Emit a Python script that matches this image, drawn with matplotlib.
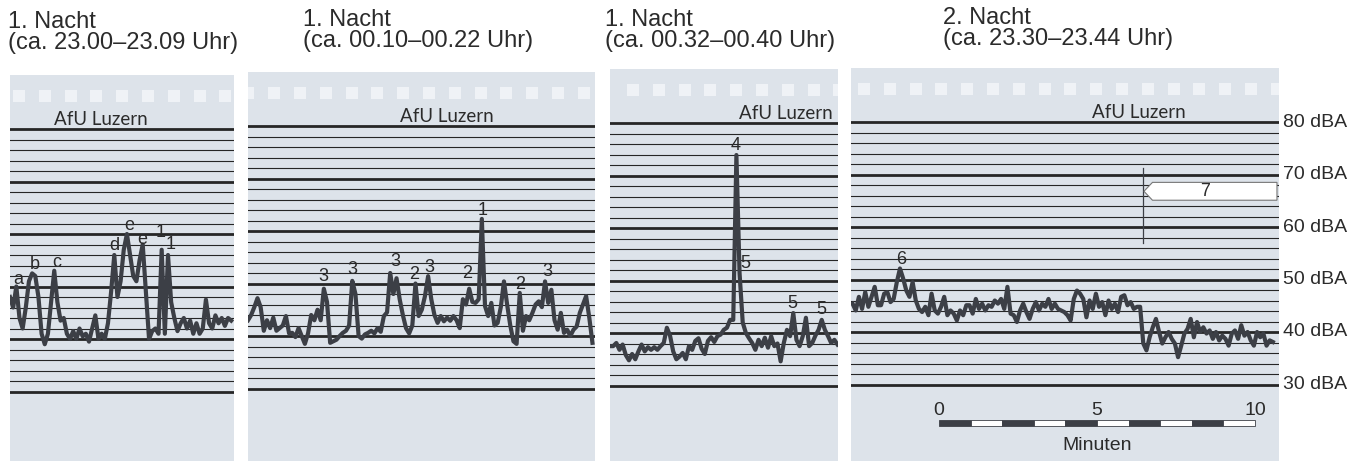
import numpy as np
import matplotlib.pyplot as plt
from matplotlib.patches import Rectangle, Polygon

plt.rcParams['font.family'] = ['Liberation Sans', 'DejaVu Sans']

W, H = 1357, 461
PX_MIN = 31.6   # pixels per minute
PX_DB = 5.25    # pixels per dBA
DT = 0.1        # minutes between samples

BG = '#dde3ea'
HOLE = '#eff2f6'
GRID = '#262626'
TRACE = '#3c3f46'
TXT = '#2b2b2b'

# --- data -------------------------------------------------------------
titles = ['1. Nacht', '1. Nacht', '1. Nacht', '2. Nacht']
subtitles = ['(ca. 23.00–23.09 Uhr)', '(ca. 00.10–00.22 Uhr)',
             '(ca. 00.32–00.40 Uhr)', '(ca. 23.30–23.44 Uhr)']

# level in dBA, one sample every DT minutes
night1_a = [48, 46, 50, 44, 42, 46, 51, 52.5, 52, 48,
            41, 39, 41, 47, 53, 47, 43.5, 44, 41, 40,
            41.5, 40, 42, 40.5, 41, 39.5, 42, 44.5, 40, 41,
            40, 43, 49, 56, 48, 51, 57, 60, 56, 52,
            51, 55, 58, 49, 40, 41.5, 42, 41, 57, 41,
            56, 47, 44, 41.5, 43, 44, 42, 43.5, 41, 43,
            41, 42, 47.5, 43, 42, 44.5, 43, 44, 42.5, 44,
            43.5]
night1_b = [43, 44, 45.5, 47.2, 45.5, 41, 43, 41.5, 43.5, 41,
            41.5, 42, 43.8, 40.5, 40.6, 39.8, 41.5, 40, 38.5, 40.5,
            44, 43, 45, 43, 49, 46.5, 38.7, 39, 39.3, 40,
            40.6, 41, 42, 50.5, 48, 40, 39.5, 40.3, 40.6, 41,
            40.5, 41.5, 40.8, 43.8, 44.5, 52, 48, 51, 47, 44,
            41.5, 40.5, 42, 50, 43.8, 45, 47.6, 51.4, 47, 44,
            42.5, 43.8, 42.8, 43.5, 42.9, 43.8, 43, 41.5, 47, 46,
            49, 46.5, 46.3, 47, 62.3, 45.7, 43.8, 46.3, 42, 42.5,
            45.5, 50.4, 46, 42, 39, 38.5, 48.2, 41, 43.8, 43,
            44.4, 46, 46.6, 45.5, 50.4, 46.3, 48.8, 43, 41.2, 44.4,
            40.6, 41.2, 40, 41.2, 41.8, 44.4, 46, 47.6, 43.5, 38.7]
night1_c = [37.5, 37.5, 38.1, 36.8, 37.8, 35.8, 34.8, 36, 35, 36.5,
            37.8, 36.5, 37.3, 36.8, 37.3, 36.8, 37.5, 38.1, 41, 39.5,
            36.5, 35, 35.5, 36.2, 35, 37.5, 36.8, 38.5, 39, 37,
            36, 38.5, 39.2, 38.3, 39.4, 39.7, 40.6, 41, 42.5, 42.5,
            73.9, 51.4, 42, 40, 39, 38.1, 36.8, 38.7, 37.5, 39.1,
            37.2, 39.4, 37.5, 38, 34.6, 38.1, 40.6, 39.4, 43.8, 38.7,
            37.5, 39.4, 42.9, 37.5, 38.1, 39.5, 40.6, 42.5, 40.6, 39.4,
            38.1, 38.7, 37.8]
night2 = [45.4, 44.1, 46.7, 44.4, 47.6, 44.8, 46.7, 48.6, 45.1, 45.1,
          47.3, 47.6, 45.7, 46.3, 49.5, 52.1, 50.2, 47.9, 46.7, 49.5,
          46.0, 44.4, 43.8, 44.8, 43.2, 47.3, 44.1, 43.5, 44.8, 46.7,
          43.2, 44.1, 43.5, 42.2, 44.1, 43.2, 45.1, 45.1, 43.5, 46.3,
          44.4, 45.4, 44.1, 45.1, 44.8, 46.0, 45.4, 46.3, 44.4, 48.6,
          43.5, 43.2, 41.9, 44.1, 45.4, 43.8, 42.5, 44.4, 45.7, 44.1,
          45.4, 44.8, 46.3, 44.4, 45.4, 44.4, 44.1, 43.8, 43.2, 42.2,
          46.3, 47.9, 47.3, 46.3, 42.8, 46.0, 44.4, 47.3, 44.8, 45.7,
          43.2, 46.0, 44.4, 45.4, 43.8, 46.7, 47.0, 45.1, 45.7, 44.4,
          44.8, 44.8, 37.8, 36.5, 39.0, 40.9, 42.5, 40.0, 37.8, 39.0,
          40.0, 38.7, 37.8, 35.2, 37.4, 39.7, 40.6, 42.5, 39.0, 41.9,
          40.0, 40.9, 39.7, 40.3, 38.7, 40.0, 38.4, 39.3, 38.7, 37.4,
          39.7, 40.3, 38.7, 41.3, 39.3, 40.0, 38.4, 37.4, 40.0, 39.0,
          39.7, 37.4, 38.4, 38.1]
series = [night1_a, night1_b, night1_c, night2]
start_min = [0, 0, 0, 0.05]

# event labels: text, minute, dBA
labels_a = [('a', 0.26, 51.3), ('b', 0.77, 54.1), ('c', 1.48, 54.6),
            ('d', 3.29, 57.8), ('e', 3.77, 61.7), ('e', 4.2, 58.9),
            ('1', 4.76, 60.2), ('1', 5.07, 58.0)]
labels_b = [('3', 2.38, 51.4), ('3', 3.31, 52.6), ('3', 4.65, 54.1),
            ('2', 5.26, 51.8), ('3', 5.73, 53.1), ('2', 6.92, 51.9),
            ('1', 7.41, 64.0), ('2', 8.61, 49.8), ('3', 9.47, 52.3)]
labels_c = [('4', 3.99, 75.8), ('5', 4.29, 53.3), ('5', 5.78, 45.6),
            ('5', 6.70, 44.5)]
labels_d = [('6', 1.6, 53.8)]
event_labels = [labels_a, labels_b, labels_c, labels_d]

db_ticks = [80, 70, 60, 50, 40, 30]
scale_ticks = [0, 5, 10]

# --- layout (pixels) --------------------------------------------------
panel_x = [(10, 234), (248, 595), (610, 838), (851, 1279)]
panel_y80 = [129, 126, 123, 122]
hole_off = [3, -5.7, 17, 7]
title_x = [8, 303, 605, 943]
title_base = [28, 26, 26, 24]
afu_pos = [(101, 'center'), (447, 'center'), (833, 'right'), (1139, 'center')]

fig = plt.figure(figsize=(W / 100, H / 100), dpi=100)
fig.patch.set_facecolor('white')

axes = []
for k in range(4):
    x0, x1 = panel_x[k]
    y80 = panel_y80[k]
    top = y80 - 54
    bot = y80 + 65 * PX_DB
    ax = fig.add_axes([x0 / W, 1 - bot / H, (x1 - x0) / W, (bot - top) / H])
    ax.set_xlim(0, (x1 - x0) / PX_MIN)
    ax.set_ylim(15, 80 + 54 / PX_DB)
    ax.set_facecolor(BG)
    ax.set_xticks([])
    ax.set_yticks([])
    for s in ax.spines.values():
        s.set_visible(False)

    # film strip holes
    for j in range(18):
        hx = (hole_off[k] + j * 25.8) / PX_MIN
        ax.add_patch(Rectangle((hx, 85.1), 12 / PX_MIN, 2.4,
                               facecolor=HOLE, edgecolor='none'))

    # recorder paper lines
    for v in range(30, 81, 2):
        ax.axhline(v, color=GRID, lw=2.0 if v % 10 == 0 else 0.8, zorder=1)

    vals = series[k]
    t = start_min[k] + DT * np.arange(len(vals))
    ax.plot(t, vals, color=TRACE, lw=3.0, zorder=3)

    for txt, tx, ty in event_labels[k]:
        ax.text(tx, ty, txt, ha='center', va='center', fontsize=13,
                color=TXT, zorder=4)

    bx, ha = afu_pos[k]
    ax.text((bx - x0) / PX_MIN, 80 + 4.5 / PX_DB, 'AfU Luzern', ha=ha,
            va='baseline', fontsize=13.5, color=TXT, family=['Lato', 'DejaVu Sans'])

    fig.text(title_x[k] / W, 1 - title_base[k] / H, titles[k], fontsize=17,
             color=TXT, va='baseline')
    fig.text(title_x[k] / W, 1 - (title_base[k] + 21) / H, subtitles[k],
             fontsize=17, color=TXT, va='baseline')
    axes.append(ax)

ax = axes[3]
# dBA scale on the right
for v in db_ticks:
    ax.text((1283 - 851) / PX_MIN, v, '%d dBA' % v, ha='left', va='center',
            fontsize=14, color=TXT, clip_on=False)

# time scale bar
s0 = (939 - 851) / PX_MIN
for j in range(10):
    ax.add_patch(Rectangle((s0 + j, 22.0), 1, 1.3,
                           facecolor=TRACE if j % 2 == 0 else 'white',
                           edgecolor=TRACE, lw=0.6, zorder=3))
for v in scale_ticks:
    ax.text(s0 + v, 25.0, str(v), ha='center', va='center', fontsize=14,
            color=TXT)
ax.text(s0 + 5, 18.4, 'Minuten', ha='center', va='center', fontsize=14,
        color=TXT)

# marker 7
m7 = (1143 - 851) / PX_MIN
ax.plot([m7, m7], [56.9, 71.2], color=TRACE, lw=0.9, zorder=3)
ax.add_patch(Polygon([(m7 + 0.03, 66.8), (m7 + 0.3, 68.5), (13.48, 68.5),
                      (13.48, 65.1), (m7 + 0.3, 65.1)], closed=True,
                     facecolor='white', edgecolor='#777777', lw=0.8, zorder=4))
ax.text(11.2, 66.8, '7', ha='center', va='center', fontsize=13, color=TXT,
        zorder=5)

fig.savefig('out.png', dpi=100, facecolor='white')
